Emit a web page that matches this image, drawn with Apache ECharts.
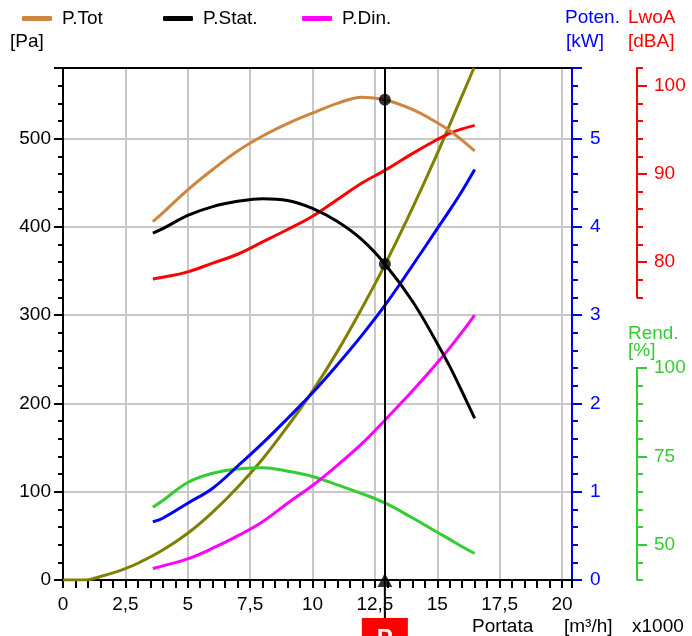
<!DOCTYPE html>
<html>
<head>
<meta charset="utf-8">
<script src="https://cdn.jsdelivr.net/npm/echarts@6/dist/echarts.min.js"></script>
<style>
  html, body { margin: 0; padding: 0; background: #fff; }
  #chart { width: 692px; height: 636px; }
</style>
</head>
<body>
<div id="chart"></div>
<script>
// Fan performance curves: flow rate in thousands of m³/h
const flow = [3.6, 4, 5, 6, 7, 8, 9, 10, 11, 12, 12.9, 14, 15, 15.5, 16, 16.5];
const pTot = [406, 416, 442, 465, 486, 503, 517, 529, 540, 547, 544, 533, 518, 509, 498, 486];
const pStat = [393, 398, 413, 423, 429, 432, 430, 421, 406, 385, 358, 316, 268, 242, 213, 183];
const pDin = [13, 16, 24, 36, 50, 66, 87, 107, 130, 155, 181, 214, 246, 263, 281, 300];
const power = [0.66, 0.70, 0.87, 1.04, 1.29, 1.55, 1.83, 2.12, 2.44, 2.78, 3.11, 3.56, 3.98, 4.19, 4.41, 4.65];
const noise = [78.1, 78.3, 78.9, 79.9, 80.9, 82.3, 83.7, 85.2, 87.1, 89.0, 90.4, 92.3, 93.9, 94.6, 95.1, 95.5];
const efficiency = [60.6, 62.5, 67.6, 70.2, 71.4, 71.8, 70.8, 69.3, 66.9, 64.4, 61.8, 57.6, 53.5, 51.5, 49.4, 47.5];

// System resistance curve
const sysFlow = [0, 0.9, 1.5, 2, 2.5, 3, 4, 5, 6, 7, 8, 9, 10, 11, 12, 12.9, 14, 15, 16, 16.47];
const sysPress = [0, 0, 4, 8, 13, 19, 34, 53, 77, 105, 137, 174, 214, 259, 309, 357, 421, 483, 549, 580];

// Working point
const opFlow = 12.9;

// Axis tick settings
const paMajor = 100, paMinor = 20, paMax = 580;
const kwMajor = 1, kwMinor = 0.2, kwMax = 5.8;
const dbaMin = 76, dbaMax = 102, dbaMinor = 2, dbaLabels = [80, 90, 100];
const effMin = 40, effMax = 100, effMinor = 5, effLabels = [50, 75, 100];
const flowMax = 20.4, flowMajor = 2.5, flowMinor = 0.5;

const FONT = '"Liberation Sans", Arial, sans-serif';
const FS = 19;
const GRID_COLOR = '#c8c8c8';
const C = {
  tot: '#cd853f', stat: '#000000', din: '#ff00ff', sys: '#808000',
  power: '#0000ff', noise: '#ff0000', eff: '#33cc33'
};

const onStep = (v, step) => Math.abs(v / step - Math.round(v / step)) < 1e-6;
const comma = v => String(v).replace('.', ',');
const pairs = (xs, ys) => xs.map((x, i) => [x, ys[i]]);
const opIdx = flow.indexOf(opFlow);

const chart = echarts.init(document.getElementById('chart'), null, { renderer: 'canvas' });

const lbl = (color, margin, extra) => Object.assign({
  color, fontSize: FS, fontFamily: FONT, margin
}, extra || {});

function axisBase(extra) {
  return Object.assign({
    type: 'value',
    axisLine: { show: false, onZero: false },
    axisTick: { show: false },
    axisLabel: { show: false },
    splitLine: { show: false }
  }, extra);
}

function curve(name, xs, ys, color, xi, yi) {
  return {
    name, type: 'line', xAxisIndex: xi, yAxisIndex: yi,
    data: pairs(xs, ys), showSymbol: false, smooth: 0.4,
    lineStyle: { color, width: 3 }, itemStyle: { color }, silent: true, z: 3
  };
}

const legendItem = (name, left) => ({
  data: [name], left, top: 9, padding: 0, selectedMode: false,
  icon: 'roundRect', itemWidth: 30, itemHeight: 5,
  textStyle: { fontSize: FS, fontFamily: FONT, color: '#000', padding: [0, 0, 0, 5] }
});

const txt = (id, text, x, y, color) => ({
  type: 'text', id, left: x, top: y - 11,
  style: { text, fill: color, font: FS + 'px ' + FONT }
});

const option = {
  animation: false,
  backgroundColor: '#fff',
  legend: [legendItem('P.Tot', 22), legendItem('P.Stat.', 163), legendItem('P.Din.', 302)],
  grid: [
    { left: 63, right: 120, top: 68, bottom: 56 },
    { left: 63, right: 120, top: 68, bottom: 338.5 },
    { left: 63, right: 120, top: 368, bottom: 56 }
  ],
  xAxis: [
    axisBase({
      gridIndex: 0, position: 'bottom', min: 0, max: flowMax, interval: flowMajor,
      axisLine: { show: true, onZero: false, lineStyle: { color: '#000', width: 2 } },
      axisLabel: lbl('#000', 15, { formatter: v => onStep(v, flowMajor) ? comma(v) : '' }),
      splitLine: { show: true, lineStyle: { color: GRID_COLOR, width: 2 } }
    }),
    axisBase({
      gridIndex: 0, position: 'bottom', min: 0, max: flowMax, interval: flowMinor,
      axisTick: { show: true, length: 8, lineStyle: { color: '#000', width: 2 } }
    }),
    axisBase({
      gridIndex: 0, position: 'top', min: 0, max: flowMax,
      axisLine: { show: true, onZero: false, lineStyle: { color: '#000', width: 2 } }
    }),
    axisBase({ gridIndex: 1, show: false, min: 0, max: flowMax }),
    axisBase({ gridIndex: 2, show: false, min: 0, max: flowMax })
  ],
  yAxis: [
    axisBase({
      gridIndex: 0, position: 'left', min: 0, max: paMax, interval: paMajor,
      axisLine: { show: true, onZero: false, lineStyle: { color: '#000', width: 2 } },
      axisTick: { show: true, length: 9, lineStyle: { color: '#000', width: 2 } },
      axisLabel: lbl('#000', 12, { formatter: v => onStep(v, paMajor) ? String(v) : '' }),
      splitLine: { show: true, lineStyle: { color: GRID_COLOR, width: 2 } }
    }),
    axisBase({
      gridIndex: 0, position: 'left', min: 0, max: paMax, interval: paMinor,
      axisTick: { show: true, length: 5, lineStyle: { color: '#000', width: 2 } }
    }),
    axisBase({
      gridIndex: 0, position: 'right', min: 0, max: kwMax, interval: kwMajor,
      axisLine: { show: true, onZero: false, lineStyle: { color: C.power, width: 2 } },
      axisTick: { show: true, length: 10, lineStyle: { color: C.power, width: 2 } },
      axisLabel: lbl(C.power, 18, { formatter: v => onStep(v, kwMajor) ? String(v) : '' })
    }),
    axisBase({
      gridIndex: 0, position: 'right', min: 0, max: kwMax, interval: kwMinor,
      axisTick: { show: true, length: 6, lineStyle: { color: C.power, width: 2 } }
    }),
    axisBase({
      gridIndex: 1, position: 'right', offset: 65, min: dbaMin, max: dbaMax, interval: dbaMinor,
      axisLine: { show: true, onZero: false, lineStyle: { color: C.noise, width: 2 } },
      axisTick: { show: true, length: 6, lineStyle: { color: C.noise, width: 2 } }
    }),
    axisBase({
      gridIndex: 1, position: 'right', offset: 65, min: dbaMin, max: dbaMax,
      axisTick: { show: true, length: 10, customValues: dbaLabels, lineStyle: { color: C.noise, width: 2 } },
      axisLabel: lbl(C.noise, 17, { show: true, customValues: dbaLabels })
    }),
    axisBase({
      gridIndex: 2, position: 'right', offset: 65, min: effMin, max: effMax, interval: effMinor,
      axisLine: { show: true, onZero: false, lineStyle: { color: C.eff, width: 2 } },
      axisTick: { show: true, length: 6, lineStyle: { color: C.eff, width: 2 } }
    }),
    axisBase({
      gridIndex: 2, position: 'right', offset: 65, min: effMin, max: effMax,
      axisTick: { show: true, length: 10, customValues: effLabels, lineStyle: { color: C.eff, width: 2 } },
      axisLabel: lbl(C.eff, 17, { show: true, customValues: effLabels })
    })
  ],
  series: [
    curve('Resistenza', sysFlow, sysPress, C.sys, 0, 0),
    curve('Rendimento', flow, efficiency, C.eff, 4, 6),
    curve('Potenza', flow, power, C.power, 0, 2),
    curve('LwoA', flow, noise, C.noise, 3, 4),
    curve('P.Din.', flow, pDin, C.din, 0, 0),
    curve('P.Stat.', flow, pStat, C.stat, 0, 0),
    curve('P.Tot', flow, pTot, C.tot, 0, 0),
    {
      name: 'Punto', type: 'scatter', xAxisIndex: 0, yAxisIndex: 0,
      data: [[opFlow, pTot[opIdx]], [opFlow, pStat[opIdx]]],
      symbol: 'circle', symbolSize: 12, itemStyle: { color: '#000' }, silent: true, z: 6,
      markLine: {
        silent: true, symbol: 'none', label: { show: false },
        lineStyle: { color: '#000', width: 2, type: 'solid' },
        data: [{ xAxis: opFlow }]
      }
    },
    {
      name: 'Base', type: 'scatter', xAxisIndex: 0, yAxisIndex: 0, clip: false,
      data: [[opFlow, 0]], symbol: 'triangle', symbolSize: [15, 14],
      itemStyle: { color: '#000' }, silent: true, z: 6
    }
  ],
  graphic: [
    txt('pa', '[Pa]', 10, 43, '#000'),
    txt('poten', 'Poten.', 565, 19, C.power),
    txt('kw', '[kW]', 566, 43, C.power),
    txt('lwoa', 'LwoA', 628, 19, C.noise),
    txt('dba', '[dBA]', 628, 43, C.noise),
    txt('rend', 'Rend.', 628, 335, C.eff),
    txt('pct', '[%]', 628, 352, C.eff),
    txt('portata', 'Portata', 472, 628, '#000'),
    txt('unit', '[m³/h]', 564, 628, '#000'),
    txt('mult', 'x1000', 632, 628, '#000')
  ]
};

chart.setOption(option);

// Working-point marker below the flow axis
const baseIdx = option.series.length - 1;
const [opX, axisY] = chart.convertToPixel({ seriesIndex: baseIdx }, [opFlow, 0]);
chart.setOption({
  graphic: [
    { type: 'line', id: 'opLine', shape: { x1: opX, y1: axisY, x2: opX, y2: 618 },
      style: { stroke: '#000', lineWidth: 2 }, z: 10 },
    { type: 'rect', id: 'opBox', shape: { x: opX - 23, y: 618, width: 46, height: 30 },
      style: { fill: '#ff0000' }, z: 11 },
    { type: 'text', id: 'opText', x: opX, y: 627, z: 12,
      style: { text: 'P', fill: '#fff', font: 'bold 24px ' + FONT, align: 'center', verticalAlign: 'top' } }
  ]
});
</script>
</body>
</html>
